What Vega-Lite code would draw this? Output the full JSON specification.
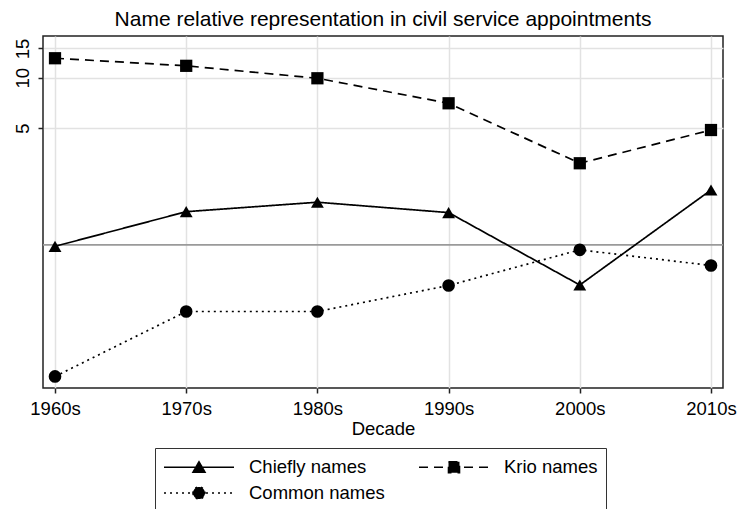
{
  "$schema": "https://vega.github.io/schema/vega-lite/v6.json",
  "width": 680,
  "height": 352,
  "autosize": "none",
  "padding": {"left": 43, "top": 36, "right": 17, "bottom": 121},
  "background": "white",
  "title": {"text": "Name relative representation in civil service appointments", "fontSize": 21, "font": "Liberation Sans", "fontWeight": "normal", "color": "black", "anchor": "middle", "offset": 6},
  "config": {"view": {"stroke": "#222", "strokeWidth": 1.5}, "font": "Liberation Sans"},
  "data": {"values": [
    {"decade": "1960s", "series": "Chiefly names", "value": 0.98},
    {"decade": "1970s", "series": "Chiefly names", "value": 1.58},
    {"decade": "1980s", "series": "Chiefly names", "value": 1.80},
    {"decade": "1990s", "series": "Chiefly names", "value": 1.56},
    {"decade": "2000s", "series": "Chiefly names", "value": 0.575},
    {"decade": "2010s", "series": "Chiefly names", "value": 2.13},
    {"decade": "1960s", "series": "Krio names", "value": 13.1},
    {"decade": "1970s", "series": "Krio names", "value": 11.8},
    {"decade": "1980s", "series": "Krio names", "value": 9.94},
    {"decade": "1990s", "series": "Krio names", "value": 7.04},
    {"decade": "2000s", "series": "Krio names", "value": 3.08},
    {"decade": "2010s", "series": "Krio names", "value": 4.87},
    {"decade": "1960s", "series": "Common names", "value": 0.163},
    {"decade": "1970s", "series": "Common names", "value": 0.399},
    {"decade": "1980s", "series": "Common names", "value": 0.399},
    {"decade": "1990s", "series": "Common names", "value": 0.571},
    {"decade": "2000s", "series": "Common names", "value": 0.934},
    {"decade": "2010s", "series": "Common names", "value": 0.752}
  ]},
  "encoding": {
    "y": {
      "field": "value", "type": "quantitative",
      "scale": {"type": "log", "domain": [0.139, 17.8], "nice": false, "zero": false},
      "axis": {"values": [5, 10, 15], "title": null, "labelAngle": -90, "grid": true, "gridColor": "#e2e2e2", "gridWidth": 1.5, "domain": false, "tickColor": "#222", "tickSize": 5, "tickWidth": 1.5, "labelFontSize": 18.5, "labelColor": "black", "labelPadding": 6, "labelFont": "Liberation Sans"}
    }
  },
  "layer": [
    {
      "data": {"values": [{"value": 1}]},
      "mark": {"type": "rule", "color": "#9a9a9a", "strokeWidth": 1.6},
      "encoding": {}
    },
    {
      "mark": {"type": "line", "color": "black", "strokeWidth": 1.7},
      "encoding": {
        "x": {
          "field": "decade", "type": "ordinal", "sort": ["1960s", "1970s", "1980s", "1990s", "2000s", "2010s"],
          "scale": {"type": "point", "padding": 0.0915},
          "axis": {"title": "Decade", "labelAngle": 0, "grid": true, "gridColor": "#e2e2e2", "gridWidth": 1.5, "domain": false, "tickColor": "#222", "tickSize": 5, "tickWidth": 1.5, "labelFontSize": 18.5, "titleFontSize": 18.5, "titleFontWeight": "normal", "labelColor": "black", "titleColor": "black", "labelPadding": 6, "titlePadding": 2, "labelFont": "Liberation Sans", "titleFont": "Liberation Sans"}
        },
        "strokeDash": {
          "field": "series", "type": "nominal",
          "scale": {"domain": ["Chiefly names", "Krio names", "Common names"], "range": [[1, 0], [9, 6], [2, 4]]},
          "legend": {
            "title": null, "orient": "none", "legendX": 112, "legendY": 412, "columns": 2, "direction": "horizontal", "gridAlign": "each", "padding": 8,
            "strokeColor": "#333", "fillColor": "white", "symbolSize": 400, "symbolStrokeWidth": 1.6,
            "symbolStrokeColor": "black", "symbolFillColor": "black", "labelFontSize": 18.5, "labelColor": "black",
            "labelOffset": 64, "rowPadding": 5, "columnPadding": 30, "labelFont": "Liberation Sans",
            "encode": {"symbols": {"update": {
              "shape": {"signal": "datum.value === 'Chiefly names' ? 'M-1,0L6,0M1.9,0.5L2.5,-0.55L3.1,0.5Z' : datum.value === 'Krio names' ? 'M-1,0L6,0M1.95,-0.55L3.05,-0.55L3.05,0.55L1.95,0.55Z' : 'M-1,0L6,0M1.9,0A0.6,0.6 0 1 0 3.1,0A0.6,0.6 0 1 0 1.9,0Z'"},
              "fill": {"value": "black"}, "stroke": {"value": "black"}, "opacity": {"value": 1}
            }}}
          }
        }
      }
    },
    {
      "transform": [{"filter": "datum.series === 'Chiefly names'"}],
      "mark": {"type": "point", "shape": "triangle-up", "filled": true, "color": "black", "opacity": 1, "size": 165},
      "encoding": {
        "x": {"field": "decade", "type": "ordinal", "sort": ["1960s", "1970s", "1980s", "1990s", "2000s", "2010s"], "scale": {"type": "point", "padding": 0.0915}}
      }
    },
    {
      "transform": [{"filter": "datum.series === 'Krio names'"}],
      "mark": {"type": "point", "shape": "square", "filled": true, "color": "black", "opacity": 1, "size": 150},
      "encoding": {
        "x": {"field": "decade", "type": "ordinal", "sort": ["1960s", "1970s", "1980s", "1990s", "2000s", "2010s"], "scale": {"type": "point", "padding": 0.0915}}
      }
    },
    {
      "transform": [{"filter": "datum.series === 'Common names'"}],
      "mark": {"type": "point", "shape": "circle", "filled": true, "color": "black", "opacity": 1, "size": 160},
      "encoding": {
        "x": {"field": "decade", "type": "ordinal", "sort": ["1960s", "1970s", "1980s", "1990s", "2000s", "2010s"], "scale": {"type": "point", "padding": 0.0915}}
      }
    }
  ]
}
